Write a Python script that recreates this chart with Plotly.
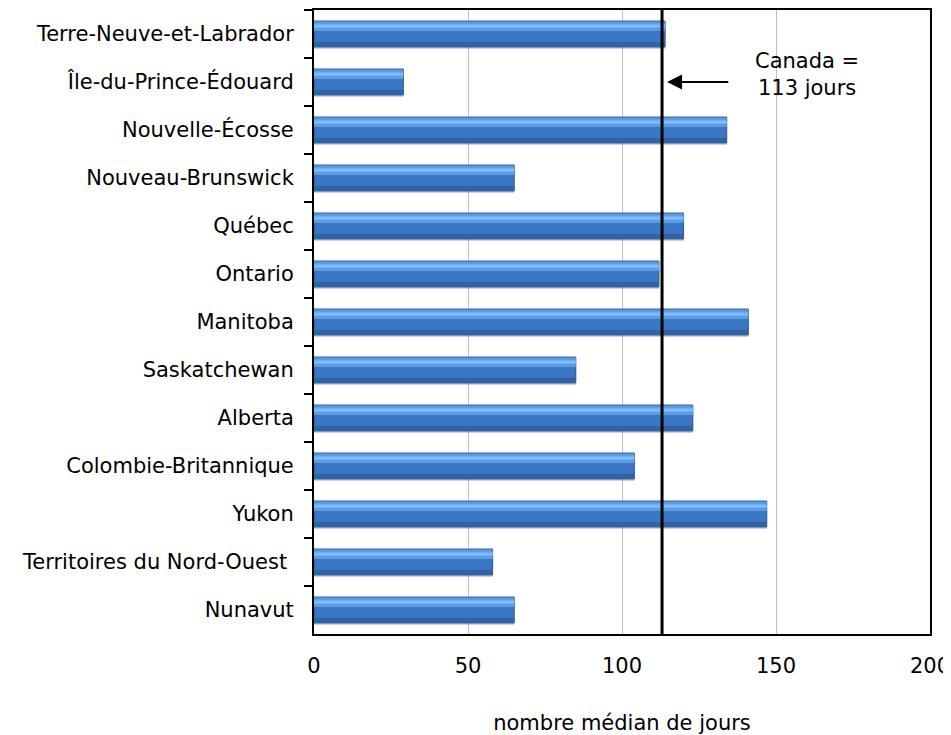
import plotly.graph_objects as go

provinces = [
    "Terre-Neuve-et-Labrador",
    "Île-du-Prince-Édouard",
    "Nouvelle-Écosse",
    "Nouveau-Brunswick",
    "Québec",
    "Ontario",
    "Manitoba",
    "Saskatchewan",
    "Alberta",
    "Colombie-Britannique",
    "Yukon",
    "Territoires du Nord-Ouest\u00a0",
    "Nunavut",
]
median_days = [114, 29, 134, 65, 120, 112, 141, 85, 123, 104, 147, 58, 65]
canada_value = 113
arrow_tail = 135
canada_label = "Canada =<br>113 jours"
x_ticks = [0, 50, 100, 150, 200]
x_title = "nombre médian de jours"

FONT = "DejaVu Sans, Verdana, sans-serif"
FS = 21

fig = go.Figure()
# soft shadow under bars
fig.add_trace(go.Bar(
    y=provinces, x=median_days, orientation="h",
    width=0.56, offset=-0.25,
    marker=dict(color="rgba(120,120,120,0.35)", line=dict(width=0)),
    hoverinfo="skip", showlegend=False,
))
# base bar
fig.add_trace(go.Bar(
    y=provinces, x=median_days, orientation="h",
    width=0.54,
    marker=dict(color="#3b76c4", line=dict(color="#2a5690", width=1)),
    hoverinfo="x+y", showlegend=False,
))
# darker lower part
fig.add_trace(go.Bar(
    y=provinces, x=median_days, orientation="h",
    width=0.1, offset=0.16,
    marker=dict(color="#3163a6", line=dict(width=0)),
    hoverinfo="skip", showlegend=False,
))
# lighter upper part
fig.add_trace(go.Bar(
    y=provinces, x=median_days, orientation="h",
    width=0.2, offset=-0.26,
    marker=dict(color="#5c9be2", line=dict(width=0)),
    hoverinfo="skip", showlegend=False,
))
# highlight band
fig.add_trace(go.Bar(
    y=provinces, x=median_days, orientation="h",
    width=0.07, offset=-0.2,
    marker=dict(color="#7dbcf7", line=dict(width=0)),
    hoverinfo="skip", showlegend=False,
))

fig.add_shape(type="line", xref="x", yref="paper",
              x0=canada_value, x1=canada_value, y0=0, y1=1,
              line=dict(color="black", width=3))

fig.add_annotation(
    x=canada_value, y=provinces[1], xref="x", yref="y",
    ax=arrow_tail, ay=provinces[1], axref="x", ayref="y",
    text="", showarrow=True, arrowhead=2, arrowsize=1.5,
    arrowwidth=2, arrowcolor="black", standoff=5,
)
fig.add_annotation(
    x=0.80, y=0.897, xref="paper", yref="paper",
    xanchor="center", yanchor="middle",
    text=canada_label, showarrow=False,
    font=dict(family=FONT, size=FS, color="black"), align="center",
)

fig.update_layout(
    width=943, height=727,
    margin=dict(l=306, r=21, t=2, b=101),
    paper_bgcolor="white", plot_bgcolor="white",
    barmode="overlay",
    font=dict(family=FONT, size=FS, color="black"),
    xaxis=dict(
        range=[0, 200], tickvals=x_ticks, ticktext=[str(v) for v in x_ticks],
        showgrid=True, gridcolor="#bfbfbf", gridwidth=1,
        showline=True, linecolor="black", linewidth=2, mirror=True,
        ticks="", zeroline=False, automargin=False,
        title=dict(text=x_title, standoff=40, font=dict(size=FS)),
        ticklabelstandoff=12, ticklabeloverflow="allow",
    ),
    yaxis=dict(
        autorange="reversed", type="category", automargin=False,
        showline=True, linecolor="black", linewidth=2, mirror=True,
        ticks="outside", ticklen=8, tickcolor="black", tickwidth=2,
        tickson="boundaries", showgrid=False,
        ticklabelstandoff=14,
    ),
)

fig.write_html("out.html")
